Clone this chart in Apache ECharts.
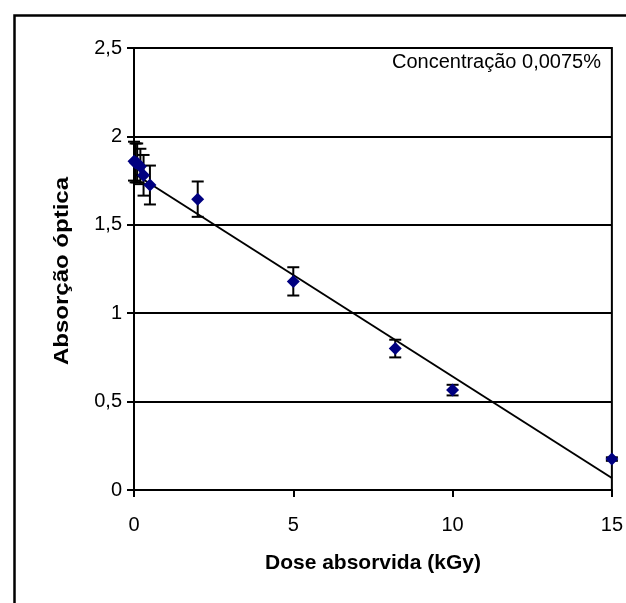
<!DOCTYPE html>
<html>
<head>
    <meta charset="utf-8">
    <title>Absorção óptica</title>
    <script src="https://cdn.jsdelivr.net/npm/echarts@6/dist/echarts.min.js"></script>
    <style>
        html, body { margin: 0; padding: 0; background: #fff; }
        #grafico { width: 626px; height: 603px; }
    </style>
</head>
<body>
<div id="grafico"></div>
<script type="text/javascript">

    // dose absorvida (kGy) e absorção óptica
    var dose = [0, 0.05, 0.1, 0.2, 0.3, 0.5, 2, 5, 8.2, 10, 15];
    var absorcao = [1.86, 1.85, 1.85, 1.83, 1.78, 1.725, 1.645, 1.18, 0.80, 0.565, 0.175];
    var erro = [0.11, 0.11, 0.11, 0.1, 0.115, 0.11, 0.10, 0.08, 0.05, 0.03, 0.01];

    // linha de tendência (extremos)
    var tendX = [0, 15];
    var tendY = [1.79, 0.068];

    var yTicks = [0, 0.5, 1, 1.5, 2, 2.5];
    var xTicks = [0, 5, 10, 15];

    var pontos = [];
    var barras = [];
    for (var i = 0; i < dose.length; i++) {
        pontos.push([dose[i], absorcao[i]]);
        barras.push([dose[i], absorcao[i] - erro[i], absorcao[i] + erro[i]]);
    }
    var tendencia = [];
    for (var j = 0; j < tendX.length; j++) {
        tendencia.push([tendX[j], tendY[j]]);
    }

    var fonte = 'Liberation Sans, Arial, sans-serif';
    var myChart = echarts.init(document.getElementById('grafico'));

    var option = {
        backgroundColor: '#fff',
        animation: false,
        grid: {
            left: 134, right: 13, top: 48, bottom: 113,
            show: true, borderColor: '#000', borderWidth: 2
        },
        graphic: [
            {   // moldura externa, cortada à direita e embaixo
                type: 'rect', left: 12, top: 13,
                shape: { width: 700, height: 700 },
                style: { fill: 'none', stroke: '#000', lineWidth: 2.5 },
                silent: true
            },
            {
                type: 'text', right: 25, top: 52,
                style: {
                    text: 'Concentração 0,0075%',
                    font: '20px ' + fonte, fill: '#000'
                }
            },
            {   // título do eixo y (um pouco esticado como no original)
                type: 'text', x: 62, y: 271, rotation: Math.PI / 2, scaleX: 1.2,
                style: {
                    text: 'Absorção óptica', font: 'bold 20px ' + fonte, fill: '#000',
                    textAlign: 'center', textVerticalAlign: 'middle'
                }
            }
        ],
        xAxis: {
            type: 'value', min: 0, max: 15, interval: 5,
            name: 'Dose absorvida (kGy)', nameLocation: 'middle', nameGap: 63,
            nameTextStyle: { fontFamily: fonte, fontSize: 21, fontWeight: 'bold', color: '#000' },
            axisLine: { show: true, onZero: false, lineStyle: { color: '#000', width: 2 } },
            axisTick: { show: true, inside: false, length: 7, lineStyle: { color: '#000', width: 2 } },
            axisLabel: {
                margin: 25, fontFamily: fonte, fontSize: 20, color: '#000',
                formatter: function (v) { return xTicks.indexOf(v) >= 0 ? String(v) : ''; }
            },
            splitLine: { show: false }
        },
        yAxis: {
            type: 'value', min: 0, max: 2.5, interval: 0.5,
            axisLine: { show: true, onZero: false, lineStyle: { color: '#000', width: 2 } },
            axisTick: { show: true, inside: false, length: 7, lineStyle: { color: '#000', width: 2 } },
            axisLabel: {
                margin: 12, fontFamily: fonte, fontSize: 20, color: '#000',
                formatter: function (v) {
                    return yTicks.indexOf(v) >= 0 ? String(v).replace('.', ',') : '';
                }
            },
            splitLine: { show: true, lineStyle: { color: '#000', width: 2 } }
        },
        series: [
            {
                name: 'tendência', type: 'line', data: tendencia,
                showSymbol: false, symbol: 'none', z: 2,
                lineStyle: { color: '#000', width: 2 }
            },
            {
                name: 'erro', type: 'custom', data: barras, z: 3,
                renderItem: function (params, api) {
                    var x = api.value(0);
                    var baixo = api.coord([x, api.value(1)]);
                    var alto = api.coord([x, api.value(2)]);
                    var w = 6;
                    var st = { stroke: '#000', lineWidth: 2 };
                    return {
                        type: 'group',
                        children: [
                            { type: 'line', shape: { x1: alto[0], y1: alto[1], x2: baixo[0], y2: baixo[1] }, style: st },
                            { type: 'line', shape: { x1: alto[0] - w, y1: alto[1], x2: alto[0] + w, y2: alto[1] }, style: st },
                            { type: 'line', shape: { x1: baixo[0] - w, y1: baixo[1], x2: baixo[0] + w, y2: baixo[1] }, style: st }
                        ]
                    };
                }
            },
            {
                name: 'absorção', type: 'scatter', data: pontos, z: 4,
                symbol: 'diamond', symbolSize: 13,
                itemStyle: { color: '#000080', opacity: 1 }
            }
        ]
    };

    myChart.setOption(option);
</script>
</body>
</html>
